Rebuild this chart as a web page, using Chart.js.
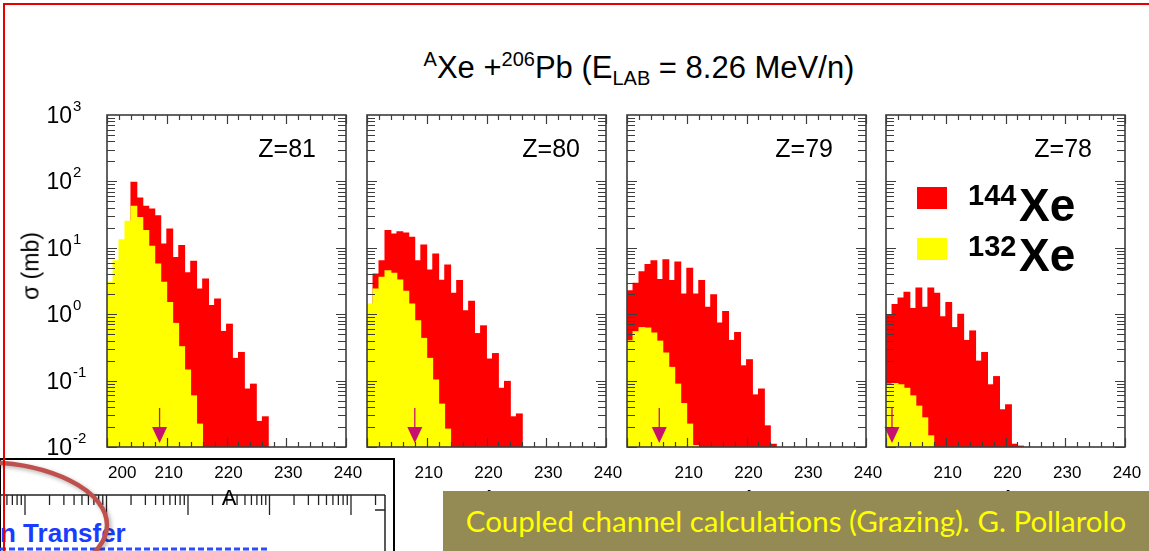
<!DOCTYPE html>
<html>
<head>
<meta charset="utf-8">
<script src="https://cdn.jsdelivr.net/npm/chart.js@4.4.1/dist/chart.umd.min.js"></script>
<style>
  html, body { margin: 0; padding: 0; background: #fff; }
  body { width: 1149px; height: 551px; position: relative; overflow: hidden; font-family: "Liberation Sans", Arial, sans-serif; }
  canvas { position: absolute; top: 90px; z-index: 2; }
  .txt { position: absolute; white-space: nowrap; line-height: 1; z-index: 3; }
  #title { left: 639px; top: 52px; font-size: 31px; transform: translateX(-50%); }
  #title .sup { font-size: 20px; position: relative; top: -12px; }
  #title .sub { font-size: 20px; position: relative; top: 7px; }
  .zlab { font-size: 25px; top: 136px; }
  #sigma { left: 31px; top: 266px; font-size: 23px; transform: translate(-50%, -50%) rotate(-90deg); }
  .swatch { position: absolute; width: 30px; height: 22px; z-index: 3; }
  .iso { font-weight: bold; font-size: 29px; }
  .elem { font-weight: bold; font-size: 46px; }
  #inset { position: absolute; left: 0; top: 455px; z-index: 1; }
  #note { position: absolute; left: 443px; top: 491px; width: 706px; height: 60px; background: #948a54; z-index: 4;
          color: #ffff00; font-family: Lato, "Open Sans", sans-serif; font-size: 29.5px; line-height: 60px; text-align: center; }
  #frame { position: absolute; left: 3px; top: 3px; width: 1200px; height: 600px; border-left: 2px solid #e60000; border-top: 2px solid #e60000; z-index: 5; }
</style>
</head>
<body>

<div id="title" class="txt"><span class="sup">A</span>Xe +<span class="sup">206</span>Pb (E<span class="sub">LAB</span> = 8.26 MeV/n)</div>
<div id="sigma" class="txt">σ (mb)</div>

<div class="txt zlab" style="right:833px">Z=81</div>
<div class="txt zlab" style="right:569px">Z=80</div>
<div class="txt zlab" style="right:316px">Z=79</div>
<div class="txt zlab" style="right:57px">Z=78</div>

<div class="swatch" style="left:917px; top:187px; background:#ff0000"></div>
<div class="swatch" style="left:917px; top:238px; background:#ffff00"></div>
<div class="txt iso" style="left:968px; top:181px">144</div>
<div class="txt elem" style="left:1019px; top:182px">Xe</div>
<div class="txt iso" style="left:968px; top:232px">132</div>
<div class="txt elem" style="left:1019px; top:232px">Xe</div>

<svg id="inset" width="400" height="96"></svg>

<canvas id="p0" width="371" height="430" style="left:0px"></canvas>
<canvas id="p1" width="371" height="430" style="left:260px"></canvas>
<canvas id="p2" width="371" height="430" style="left:520px"></canvas>
<canvas id="p3" width="371" height="430" style="left:779px"></canvas>

<div id="note">Coupled channel calculations (Grazing). G. Pollarolo</div>
<div id="frame"></div>

<script>
// mass number A of each histogram bin (bin covers A .. A+1)
const massBins = [200, 201, 202, 203, 204, 205, 206, 207, 208, 209, 210, 211, 212, 213,
                  214, 215, 216, 217, 218, 219, 220, 221, 222, 223, 224, 225, 226];

// sigma (mb), 144Xe beam
const xe144Z81 = [null, null, null, null, 99, 57, 43, 39, 31, 11.6, 19.5, 7.3, 11, 4.3,
                  6.4, 2.44, 3.45, 1.37, 1.72, 0.56, 0.72, 0.22, 0.27, 0.076, 0.090, 0.0247, 0.029];
const xe144Z80 = [null, 4.1, 6.5, 18.5, 16.4, 17.8, 17, 14.7, 6.5, 11.2, 4.7, 8.2, 3.3, 5.6,
                  2.1, 3.26, 1.15, 1.6, 0.52, 0.68, 0.215, 0.26, 0.078, 0.099, 0.029, 0.032, null];
const xe144Z79 = [2.3, 2.97, 4.45, 5.7, 6.5, 3.4, 6.7, 3.26, 6.2, 2.05, 5.0, 2.05, 3.26, 1.29,
                  2.0, 0.75, 1.12, 0.41, 0.54, 0.17, 0.21, 0.062, 0.076, 0.0212, 0.0112, null, null];
const xe144Z78 = [0.97, 1.42, 1.78, 2.17, 1.24, 2.52, 1.29, 2.52, 2.1, 0.93, 1.53, 0.64, 1.02, 0.41,
                  0.57, 0.20, 0.27, 0.088, 0.117, 0.037, 0.044, 0.0112, 0.0105, null, null, null, null];

// sigma (mb), 132Xe beam
const xe132Z81 = [3.07, 6.5, 13.4, 25.5, 43, 29, 18.5, 10.7, 5.8, 3.07, 1.53, 0.74, 0.33, 0.147,
                  0.060, 0.0225, null, null, null, null, null, null, null, null, null, null, null];
const xe132Z80 = [1.45, 2.44, 3.65, 4.6, 4.2, 3.33, 2.25, 1.45, 0.81, 0.44, 0.22, 0.104, 0.045, 0.0189,
                  null, null, null, null, null, null, null, null, null, null, null, null, null];
const xe132Z79 = [0.405, 0.555, 0.64, 0.63, 0.53, 0.40, 0.265, 0.161, 0.090, 0.046, 0.0225, 0.0107, null, null,
                  null, null, null, null, null, null, null, null, null, null, null, null, null];
const xe132Z78 = [0.090, 0.092, 0.088, 0.078, 0.060, 0.042, 0.028, 0.015, null, null, null, null, null, null,
                  null, null, null, null, null, null, null, null, null, null, null, null, null];

// grazing arrows (A) for each panel
const grazingA = [208.8, 208.0, 205.4, 201.0];

const xTicksFirst = [200, 210, 220, 230, 240];
const xTicksOther = [210, 220, 230, 240];
const yExponents = [3, 2, 1, 0, -1, -2];

const red144 = [xe144Z81, xe144Z80, xe144Z79, xe144Z78];
const yellow132 = [xe132Z81, xe132Z80, xe132Z79, xe132Z78];

function toPoints(vals) {
    return massBins.map((a, i) => ({ x: a + 0.5, y: vals[i] }));
}

// ROOT style frame: inward ticks on every side, labels, grazing arrow
const rootAxes = {
    id: 'rootAxes',
    afterDatasetsDraw(chart, args, opts) {
        const ctx = chart.ctx;
        const { left, right, top, bottom } = chart.chartArea;
        const xs = chart.scales.x;
        const ys = chart.scales.y;

        // grazing arrow
        const ax = xs.getPixelForValue(opts.arrow);
        ctx.save();
        ctx.strokeStyle = '#c8106e';
        ctx.fillStyle = '#c8106e';
        ctx.lineWidth = 1.3;
        ctx.beginPath();
        ctx.moveTo(ax, bottom - 39);
        ctx.lineTo(ax, bottom - 19);
        ctx.stroke();
        ctx.beginPath();
        ctx.moveTo(ax - 7.5, bottom - 20);
        ctx.lineTo(ax + 7.5, bottom - 20);
        ctx.lineTo(ax, bottom - 4);
        ctx.closePath();
        ctx.fill();

        ctx.strokeStyle = '#3c3c3c';
        ctx.lineWidth = 1.2;
        ctx.beginPath();
        for (let a = xs.min; a <= xs.max; a += 2) {
            const px = Math.round(xs.getPixelForValue(a)) + 0.5;
            const len = a % 10 === 0 ? 9 : 5;
            ctx.moveTo(px, bottom); ctx.lineTo(px, bottom - len);
            ctx.moveTo(px, top); ctx.lineTo(px, top + len);
        }
        for (let e = -2; e < 3; e++) {
            for (let m = 1; m <= 9; m++) {
                const py = Math.round(ys.getPixelForValue(m * Math.pow(10, e))) + 0.5;
                const len = m === 1 ? 10 : 8;
                ctx.moveTo(left, py); ctx.lineTo(left + len, py);
                ctx.moveTo(right, py); ctx.lineTo(right - len, py);
            }
        }
        ctx.stroke();
        ctx.lineWidth = 1.6;
        ctx.strokeRect(left, top, right - left, bottom - top);

        // x labels
        ctx.fillStyle = '#000';
        ctx.font = '17px "Liberation Sans", Arial, sans-serif';
        ctx.textBaseline = 'alphabetic';
        opts.xLabels.forEach(v => {
            const px = xs.getPixelForValue(v);
            ctx.textAlign = v === xs.min ? 'left' : 'center';
            ctx.fillText(String(v), v === xs.min ? px + 1 : px + 2, bottom + 31);
        });
        ctx.font = '22px "Liberation Sans", Arial, sans-serif';
        ctx.textAlign = 'center';
        ctx.fillText('A', left + 122, bottom + 58);

        // y labels (first panel only)
        if (opts.yLabels) {
            yExponents.forEach(e => {
                const py = ys.getPixelForValue(Math.pow(10, e));
                ctx.font = '23px "Liberation Sans Narrow", "Liberation Sans", sans-serif';
                ctx.textAlign = 'right';
                ctx.fillText('10', left - 35, py + 8);
                ctx.font = '15px "Liberation Sans Narrow", "Liberation Sans", sans-serif';
                ctx.textAlign = 'left';
                ctx.fillText(String(e), left - 34, py - 4);
            });
        }
        ctx.restore();
    }
};

for (let i = 0; i < 4; i++) {
    new Chart(document.getElementById('p' + i), {
        type: 'bar',
        data: {
            datasets: [
                { label: '132Xe', data: toPoints(yellow132[i]), backgroundColor: '#ffff00', order: 1 },
                { label: '144Xe', data: toPoints(red144[i]), backgroundColor: '#ff0000', order: 2 }
            ]
        },
        options: {
            responsive: false,
            animation: false,
            layout: { padding: { left: 107, top: 25, right: 25, bottom: 73 } },
            datasets: { bar: { grouped: false, categoryPercentage: 1, barPercentage: 1.15, borderWidth: 0, inflateAmount: 0 } },
            scales: {
                x: { type: 'linear', min: 200, max: 240, offset: false, display: false },
                y: { type: 'logarithmic', min: 0.01, max: 1000, display: false }
            },
            plugins: {
                legend: { display: false },
                tooltip: { enabled: false },
                rootAxes: { arrow: grazingA[i], xLabels: i === 0 ? xTicksFirst : xTicksOther, yLabels: i === 0 }
            }
        },
        plugins: [rootAxes]
    });
}

// leftover piece of the slide below: a log ruler, a label and a hand-drawn ellipse
const svg = document.getElementById('inset');
const ns = 'http://www.w3.org/2000/svg';
function el(tag, attrs, text) {
    const n = document.createElementNS(ns, tag);
    for (const k in attrs) n.setAttribute(k, attrs[k]);
    if (text) n.textContent = text;
    svg.appendChild(n);
    return n;
}
el('rect', { x: 0, y: 4, width: 394, height: 100, fill: '#fff', stroke: '#000', 'stroke-width': 2 });
el('line', { x1: 0, y1: 40, x2: 385, y2: 40, stroke: '#222', 'stroke-width': 1.5 });
el('line', { x1: 385, y1: 40, x2: 385, y2: 96, stroke: '#222', 'stroke-width': 1.5 });
el('line', { x1: 375, y1: 55, x2: 385, y2: 55, stroke: '#222', 'stroke-width': 1.5 });
for (let d = -1; d < 5; d++) {
    for (let m = 1; m <= 9; m++) {
        const x = 25 + 81.5 * (d + Math.log10(m));
        if (x < 0 || x > 384) continue;
        el('line', { x1: x, y1: 40, x2: x, y2: m === 1 ? 60 : 50, stroke: '#222', 'stroke-width': 1.3 });
    }
}
el('text', { x: 0, y: 87, fill: '#1a3cff', 'font-size': 26, 'font-weight': 'bold',
             'font-family': '"Liberation Sans Narrow", "Liberation Sans", sans-serif' }, 'n Transfer');
el('line', { x1: 0, y1: 94, x2: 270, y2: 94, stroke: '#2b4cff', 'stroke-width': 3, 'stroke-dasharray': '6 3' });
el('ellipse', { cx: -20, cy: 70, rx: 127, ry: 63, fill: 'none', stroke: '#c0504d', 'stroke-width': 4.5,
                style: 'filter: drop-shadow(2px 2px 2px rgba(0,0,0,0.3))' });
</script>
</body>
</html>
